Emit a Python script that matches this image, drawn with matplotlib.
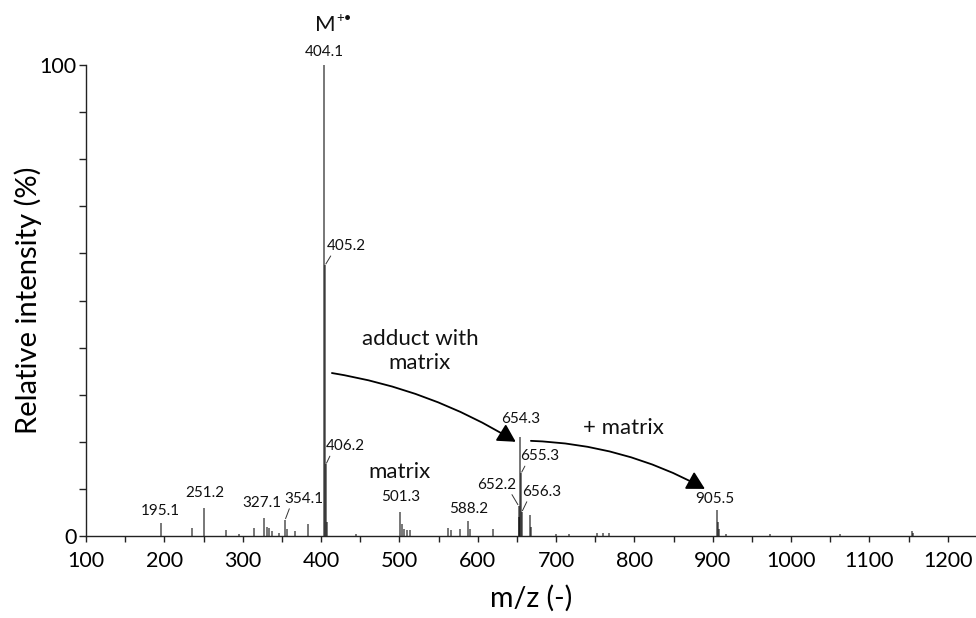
import matplotlib
matplotlib.use("Agg")
import matplotlib.pyplot as plt
from matplotlib.ticker import MultipleLocator, FixedLocator

plt.rcParams['font.family'] = ['Lato', 'DejaVu Sans']

# Stick spectrum: m/z and relative intensity (%)
mz = [195.1, 235.0, 251.2, 279.0, 295.0, 314.0, 327.1, 331.0, 334.0, 338.0,
      346.0, 354.1, 357.0, 367.0, 383.5, 404.1, 405.2, 406.2, 407.2, 445.0,
      501.3, 503.0, 506.0, 510.0, 514.0, 562.0, 566.0, 577.0, 588.2, 590.0,
      619.0, 652.2, 653.2, 654.3, 655.3, 656.3, 666.5, 668.0, 700.0, 716.0,
      752.0, 760.0, 768.0, 905.5, 906.5, 908.0, 917.0, 973.0, 1062.0, 1154.0,
      1156.0]
intensity = [2.7, 1.8, 6.0, 1.2, 0.4, 1.6, 3.9, 2.0, 1.8, 1.0,
             0.6, 3.4, 1.5, 1.0, 2.6, 100.0, 57.5, 15.2, 3.0, 0.4,
             5.0, 2.5, 1.5, 1.3, 1.2, 1.8, 1.2, 1.5, 3.2, 1.5,
             1.4, 6.4, 4.0, 21.1, 13.3, 5.1, 4.5, 2.0, 0.4, 0.5,
             0.7, 0.6, 0.6, 5.6, 3.0, 1.5, 0.5, 0.4, 0.4, 1.0,
             0.6]

# Labelled peaks
labelled_mz = [195.1, 251.2, 327.1, 354.1, 404.1, 405.2, 406.2, 501.3, 588.2,
               652.2, 654.3, 655.3, 656.3, 905.5]

x_ticks = [100, 200, 300, 400, 500, 600, 700, 800, 900, 1000, 1100, 1200]
y_ticks = [0, 100]

# label centre offsets (pixels from peak top) and leader anchor on text box
label_layout = {
    195.1: ((0, 12), None),
    251.2: ((0, 15), None),
    327.1: ((-2, 15), None),
    354.1: ((19, 21), (0.15, 0.0)),
    404.1: ((0, 13), None),
    405.2: ((21, 19), (0.15, 0.0)),
    406.2: ((19, 18), (0.15, 0.0)),
    501.3: ((0, 15), None),
    588.2: ((0, 12), None),
    652.2: ((-22, 21), (0.85, 0.0)),
    654.3: ((0, 18), None),
    655.3: ((19, 17), (0.15, 0.0)),
    656.3: ((20, 20), (0.15, 0.0)),
    905.5: ((-2, 11), None),
}

fig = plt.figure(figsize=(9.76, 6.18), dpi=100)
ax = fig.add_axes([86 / 976, 1 - 536 / 618, 1 - 86 / 976, (536 - 65) / 618])

lookup = dict(zip(mz, intensity))
ax.vlines(mz, 0, intensity, color='black', alpha=0.68, lw=1.1)

ax.set_xlim(100, 1236)
ax.set_ylim(0, 100)

ax.xaxis.set_major_locator(FixedLocator(x_ticks))
ax.xaxis.set_minor_locator(MultipleLocator(50))
ax.yaxis.set_major_locator(FixedLocator(y_ticks))
ax.yaxis.set_minor_locator(MultipleLocator(10))
ax.tick_params(axis='x', which='both', direction='out', length=4, width=1,
               color='#222', labelsize=15.5, pad=7)
ax.tick_params(axis='y', which='both', direction='out', length=5, width=1,
               color='#222', labelsize=15.5, pad=2)
for side in ('top', 'right'):
    ax.spines[side].set_visible(False)
for side in ('left', 'bottom'):
    ax.spines[side].set_color('#222')
    ax.spines[side].set_linewidth(1.0)

ax.set_xlabel('m/z (-)', fontsize=20.5, labelpad=10)
ax.set_ylabel('Relative intensity (%)', fontsize=21)
ax.yaxis.set_label_coords((42 - 86) / 890, 0.5)

for m in labelled_mz:
    (dx, dy), rel = label_layout[m]
    kw = {}
    if rel is not None:
        kw['arrowprops'] = dict(arrowstyle='-', lw=0.7, color='#333',
                                shrinkA=0, shrinkB=1, relpos=rel)
    ax.annotate(f'{m:.1f}', xy=(m, lookup[m]), xytext=(dx, dy),
                textcoords='offset pixels', ha='center', va='center',
                fontsize=11, color='#111', annotation_clip=False, **kw)

# molecular ion marker
ax.annotate('M', xy=(404.1, 100), xytext=(1, 40), textcoords='offset pixels',
            ha='center', va='center', fontsize=16, color='#111',
            annotation_clip=False)
ax.annotate('+•', xy=(404.1, 100), xytext=(12, 47), textcoords='offset pixels',
            ha='left', va='center', fontsize=9.5, color='#111',
            annotation_clip=False)

# descriptive labels
ax.text(100 + (420 - 86) / 0.7836, (536 - 351) / 4.71,
        'adduct with\nmatrix', ha='center', va='center', fontsize=16,
        linespacing=1.3, color='#111')
ax.text(500.5, (536 - 472) / 4.71, 'matrix', ha='center', va='center',
        fontsize=16, color='#111')
ax.text(100 + (624 - 86) / 0.7836, (536 - 428) / 4.71, '+ matrix',
        ha='center', va='center', fontsize=16, color='#111')

# curved arrows
arrow_kw = dict(arrowstyle='-|>,head_length=0.6,head_width=0.33', lw=1.3,
                color='black', mutation_scale=18, shrinkA=0, shrinkB=0)
ax.annotate('', xy=(648.5, 20.0), xytext=(413.9, 34.6),
            arrowprops=dict(connectionstyle='arc3,rad=-0.1', **arrow_kw))
ax.annotate('', xy=(890.0, 10.0), xytext=(667.9, 20.2),
            arrowprops=dict(connectionstyle='arc3,rad=-0.12', **arrow_kw))

fig.savefig('out.png', dpi=100)
